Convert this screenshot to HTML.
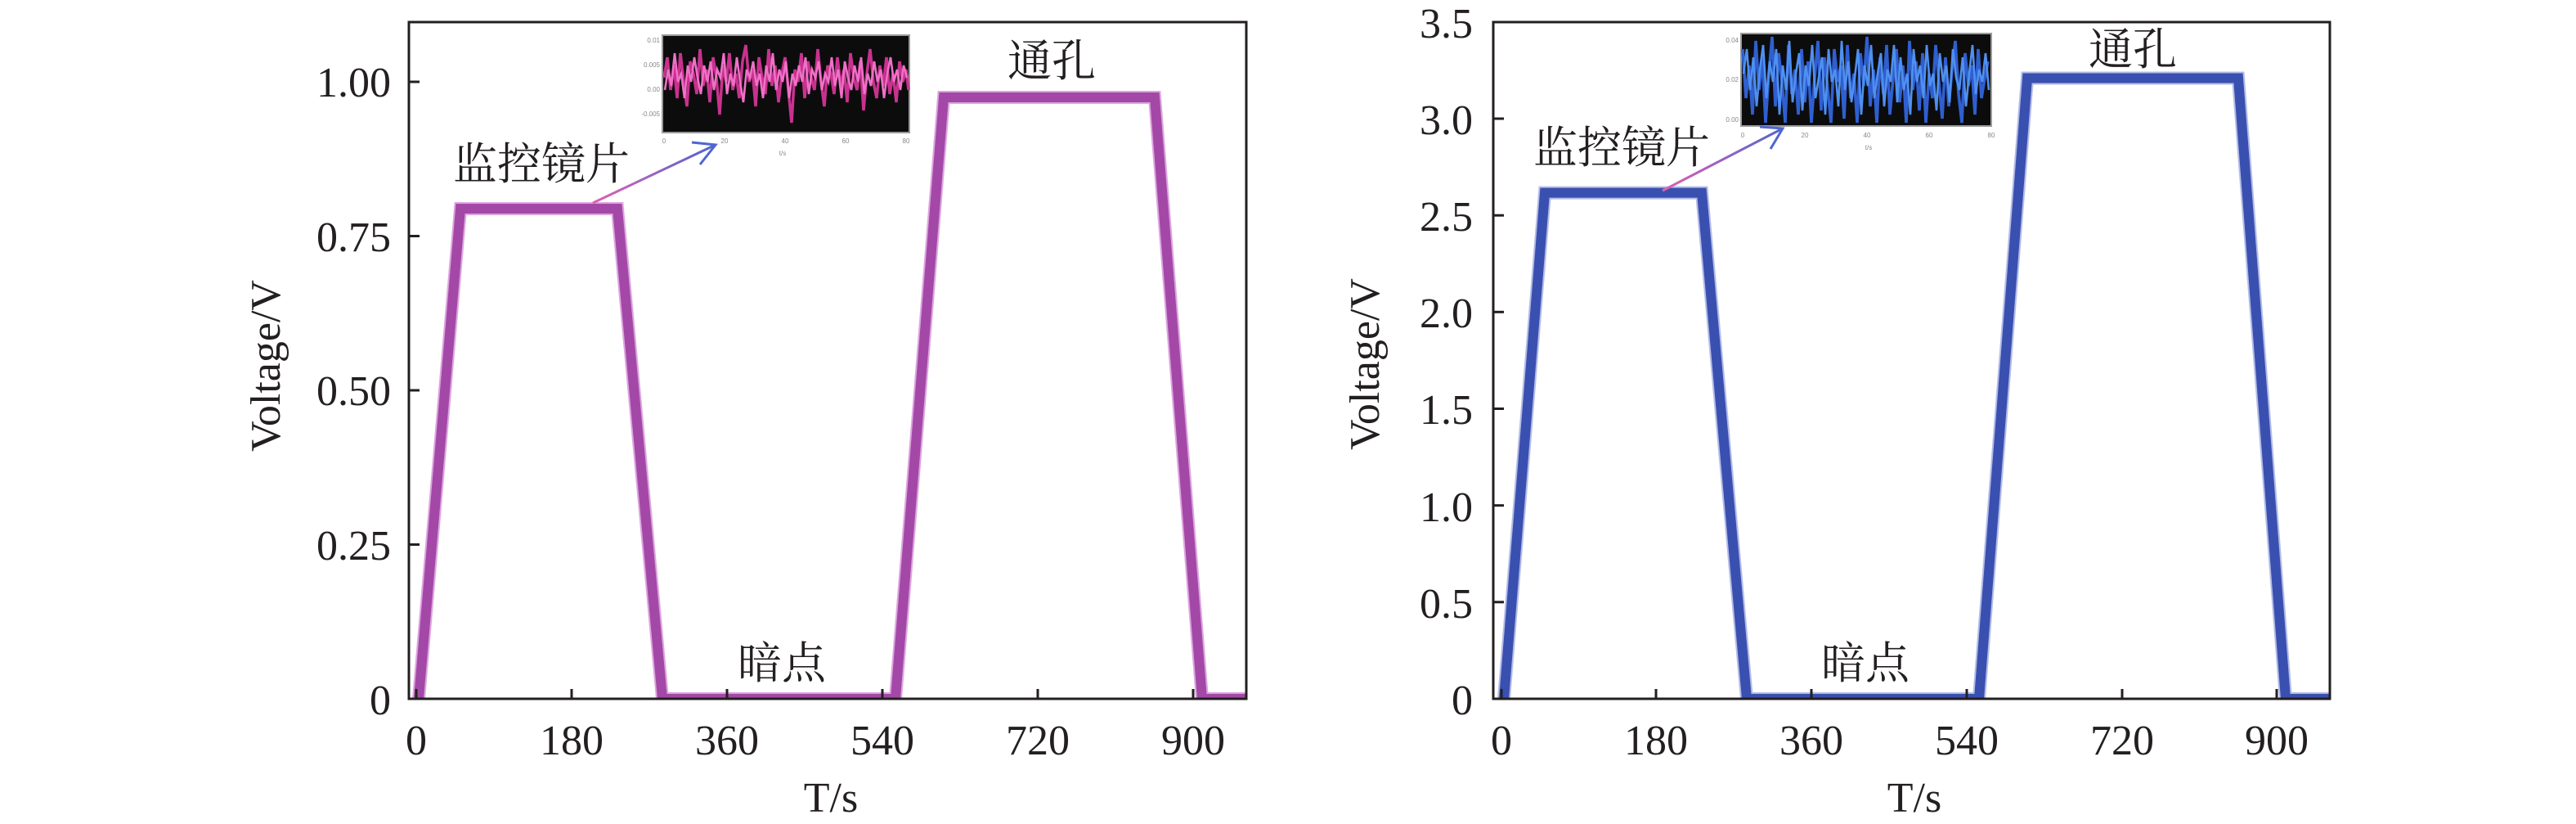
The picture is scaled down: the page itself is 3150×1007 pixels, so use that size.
<!DOCTYPE html>
<html><head><meta charset="utf-8">
<style>
html,body{margin:0;padding:0;background:#fff;}
svg{display:block;}
.t{font-family:"Liberation Serif","Noto Serif CJK SC",serif;font-size:52px;fill:#231f20;}
.c{font-family:"Liberation Serif","Noto Serif CJK SC","Noto Sans CJK SC",serif;font-size:54px;fill:#231f20;}
.s{font-family:"Liberation Sans",sans-serif;font-size:8px;fill:#888;}
</style></head>
<body>
<svg width="3150" height="1007" viewBox="0 0 3150 1007" xmlns="http://www.w3.org/2000/svg">
<defs>
<clipPath id="cl"><rect x="500" y="27" width="1024" height="827"/></clipPath>
<clipPath id="cr"><rect x="1826" y="27" width="1023" height="827"/></clipPath>
<linearGradient id="ga" gradientUnits="userSpaceOnUse" x1="725" y1="248" x2="875" y2="177">
<stop offset="0" stop-color="#e060b0"/><stop offset="1" stop-color="#5065d0"/></linearGradient>
<linearGradient id="gb" gradientUnits="userSpaceOnUse" x1="2033" y1="233" x2="2180" y2="157">
<stop offset="0" stop-color="#e060b0"/><stop offset="1" stop-color="#5065d0"/></linearGradient>
</defs>
<rect width="3150" height="1007" fill="#fff"/>

<!-- ============ LEFT PLOT ============ -->
<g clip-path="url(#cl)" fill="none" stroke-linejoin="miter">
<polyline points="512,854 563,255 755,255 810,854 1095,854 1154,119 1412,119 1470,854 1530,854" stroke="#dca6de" stroke-width="16"/>
<polyline points="512,854 563,255 755,255 810,854 1095,854 1154,119 1412,119 1470,854 1530,854" stroke="#a448a8" stroke-width="12"/>
</g>
<rect x="500" y="27" width="1024" height="827" fill="none" stroke="#231f20" stroke-width="3"/>
<g stroke="#231f20" stroke-width="3">
<line x1="500" y1="100" x2="513" y2="100"/>
<line x1="500" y1="288.5" x2="513" y2="288.5"/>
<line x1="500" y1="477" x2="513" y2="477"/>
<line x1="500" y1="665.5" x2="513" y2="665.5"/>
<line x1="509" y1="854" x2="509" y2="842"/>
<line x1="699" y1="854" x2="699" y2="842"/>
<line x1="889" y1="854" x2="889" y2="842"/>
<line x1="1079" y1="854" x2="1079" y2="842"/>
<line x1="1269" y1="854" x2="1269" y2="842"/>
<line x1="1459" y1="854" x2="1459" y2="842"/>
</g>
<g class="t" text-anchor="end">
<text x="478" y="118">1.00</text>
<text x="478" y="307">0.75</text>
<text x="478" y="495">0.50</text>
<text x="478" y="684">0.25</text>
<text x="478" y="873">0</text>
</g>
<g class="t" text-anchor="middle">
<text x="509" y="922">0</text>
<text x="699" y="922">180</text>
<text x="889" y="922">360</text>
<text x="1079" y="922">540</text>
<text x="1269" y="922">720</text>
<text x="1459" y="922">900</text>
<text x="1016" y="992">T/s</text>
<text transform="translate(342,447) rotate(-90)">Voltage/V</text>
</g>
<text class="c" x="554" y="219">监控镜片</text>
<text class="c" x="1232" y="93">通孔</text>
<text class="c" x="902" y="829">暗点</text>

<!-- left inset -->
<rect x="810" y="43" width="302" height="119" fill="#0c0c0c" stroke="#9a9a9a" stroke-width="2"/>
<polyline fill="none" stroke="#c8328e" stroke-width="3.5" points="812,95 816,70 820,110 824,80 828,120 832,65 836,100 840,130 844,75 848,90 852,115 856,60 860,105 864,85 868,125 872,70 876,95 880,140 884,80 888,100 892,65 896,110 900,90 904,120 908,75 912,55 916,100 920,85 924,130 928,70 932,95 936,115 940,60 944,105 948,80 952,125 956,90 960,70 964,110 968,150 972,85 976,100 980,65 984,120 988,75 992,95 996,110 1000,60 1004,100 1008,130 1012,80 1016,90 1020,115 1024,70 1028,105 1032,85 1036,125 1040,65 1044,95 1048,110 1052,75 1056,135 1060,90 1064,60 1068,100 1072,120 1076,80 1080,105 1084,70 1088,115 1092,90 1096,125 1100,75 1104,100 1108,85 1111,110"/>
<polyline fill="none" stroke="#f070c8" stroke-width="2.6" points="813,110 817,85 821,105 825,65 829,100 833,90 837,120 841,80 845,100 849,70 853,95 857,115 861,80 865,100 869,75 873,110 877,85 881,95 885,65 889,115 893,90 897,105 901,70 905,100 909,125 913,85 917,95 921,75 925,105 929,90 933,120 937,80 941,100 945,65 949,110 953,85 957,100 961,75 965,120 969,90 973,105 977,80 981,100 985,70 989,115 993,85 997,95 1001,75 1005,110 1009,90 1013,100 1017,70 1021,105 1025,85 1029,120 1033,75 1037,95 1041,110 1045,80 1049,100 1053,70 1057,115 1061,90 1065,105 1069,75 1073,100 1077,85 1081,120 1085,90 1089,70 1093,100 1097,85 1101,110 1105,80 1109,95"/>
<g class="s" text-anchor="end">
<text x="807" y="52">0.01</text><text x="807" y="82">0.005</text><text x="807" y="112">0.00</text><text x="807" y="142">-0.005</text>
</g>
<g class="s" text-anchor="middle">
<text x="812" y="175">0</text><text x="886" y="175">20</text><text x="960" y="175">40</text><text x="1034" y="175">60</text><text x="1108" y="175">80</text>
<text x="957" y="190">t/s</text>
</g>
<line x1="725" y1="248" x2="875" y2="177" stroke="url(#ga)" stroke-width="3"/>
<polyline points="846,174 875,177 856,201" fill="none" stroke="#5065d0" stroke-width="3"/>

<!-- ============ RIGHT PLOT ============ -->
<g clip-path="url(#cr)" fill="none" stroke-linejoin="miter">
<polyline points="1839,854 1889,235.6 2081,235.6 2136,854 2420,854 2479,95.5 2737,95.5 2795,854 2855,854" stroke="#b4bce6" stroke-width="16"/>
<polyline points="1839,854 1889,235.6 2081,235.6 2136,854 2420,854 2479,95.5 2737,95.5 2795,854 2855,854" stroke="#3a50b0" stroke-width="12"/>
</g>
<rect x="1826" y="27" width="1023" height="827" fill="none" stroke="#231f20" stroke-width="3"/>
<g stroke="#231f20" stroke-width="3">
<line x1="1826" y1="145" x2="1839" y2="145"/>
<line x1="1826" y1="263.2" x2="1839" y2="263.2"/>
<line x1="1826" y1="381.3" x2="1839" y2="381.3"/>
<line x1="1826" y1="499.5" x2="1839" y2="499.5"/>
<line x1="1826" y1="617.7" x2="1839" y2="617.7"/>
<line x1="1826" y1="735.8" x2="1839" y2="735.8"/>
<line x1="1836" y1="854" x2="1836" y2="842"/>
<line x1="2025" y1="854" x2="2025" y2="842"/>
<line x1="2215" y1="854" x2="2215" y2="842"/>
<line x1="2405" y1="854" x2="2405" y2="842"/>
<line x1="2595" y1="854" x2="2595" y2="842"/>
<line x1="2784" y1="854" x2="2784" y2="842"/>
</g>
<g class="t" text-anchor="end">
<text x="1801" y="46">3.5</text>
<text x="1801" y="164">3.0</text>
<text x="1801" y="282">2.5</text>
<text x="1801" y="400">2.0</text>
<text x="1801" y="518">1.5</text>
<text x="1801" y="637">1.0</text>
<text x="1801" y="755">0.5</text>
<text x="1801" y="873">0</text>
</g>
<g class="t" text-anchor="middle">
<text x="1836" y="922">0</text>
<text x="2025" y="922">180</text>
<text x="2215" y="922">360</text>
<text x="2405" y="922">540</text>
<text x="2595" y="922">720</text>
<text x="2784" y="922">900</text>
<text x="2341" y="992">T/s</text>
<text transform="translate(1686,445) rotate(-90)">Voltage/V</text>
</g>
<text class="c" x="1875" y="199">监控镜片</text>
<text class="c" x="2554" y="79">通孔</text>
<text class="c" x="2227" y="829">暗点</text>

<!-- right inset -->
<rect x="2129" y="41" width="306" height="113" fill="#0c0c0c" stroke="#9a9a9a" stroke-width="2"/>
<polyline fill="none" stroke="#2f5fd0" stroke-width="3.6" points="2131,60 2135,120 2139,80 2143,140 2147,50 2151,110 2155,70 2159,150 2163,90 2167,45 2171,130 2175,65 2179,100 2183,150 2187,55 2191,115 2195,85 2199,140 2203,60 2207,125 2211,75 2215,150 2219,95 2223,50 2227,135 2231,70 2235,110 2239,150 2243,60 2247,100 2251,80 2255,145 2259,55 2263,120 2267,90 2271,150 2275,65 2279,105 2283,45 2287,130 2291,85 2295,150 2299,70 2303,115 2307,55 2311,140 2315,95 2319,60 2323,125 2327,80 2331,150 2335,50 2339,110 2343,75 2347,135 2351,65 2355,150 2359,90 2363,120 2367,55 2371,100 2375,145 2379,70 2383,130 2387,85 2391,50 2395,115 2399,150 2403,65 2407,105 2411,80 2415,140 2419,60 2423,120 2427,95 2431,75"/>
<polyline fill="none" stroke="#4f90f0" stroke-width="2.6" points="2132,90 2136,60 2140,110 2144,70 2148,130 2152,85 2156,55 2160,120 2164,75 2168,100 2172,60 2176,140 2180,80 2184,110 2188,50 2192,125 2196,90 2200,65 2204,135 2208,80 2212,105 2216,55 2220,120 2224,95 2228,70 2232,140 2236,60 2240,100 2244,85 2248,130 2252,50 2256,110 2260,75 2264,125 2268,95 2272,60 2276,140 2280,80 2284,105 2288,55 2292,120 2296,90 2300,65 2304,130 2308,85 2312,100 2316,55 2320,125 2324,70 2328,110 2332,90 2336,140 2340,60 2344,100 2348,80 2352,120 2356,55 2360,105 2364,90 2368,135 2372,65 2376,100 2380,80 2384,125 2388,60 2392,95 2396,110 2400,70 2404,130 2408,90 2412,55 2416,115 2420,85 2424,100 2428,65 2432,110"/>
<g class="s" text-anchor="end">
<text x="2126" y="52">0.04</text><text x="2126" y="100">0.02</text><text x="2126" y="149">0.00</text>
</g>
<g class="s" text-anchor="middle">
<text x="2131" y="168">0</text><text x="2207" y="168">20</text><text x="2283" y="168">40</text><text x="2359" y="168">60</text><text x="2435" y="168">80</text>
<text x="2285" y="183">t/s</text>
</g>
<line x1="2033" y1="233" x2="2180" y2="157" stroke="url(#gb)" stroke-width="3"/>
<polyline points="2152,155 2180,157 2165,182" fill="none" stroke="#5065d0" stroke-width="3"/>
</svg>
</body></html>
